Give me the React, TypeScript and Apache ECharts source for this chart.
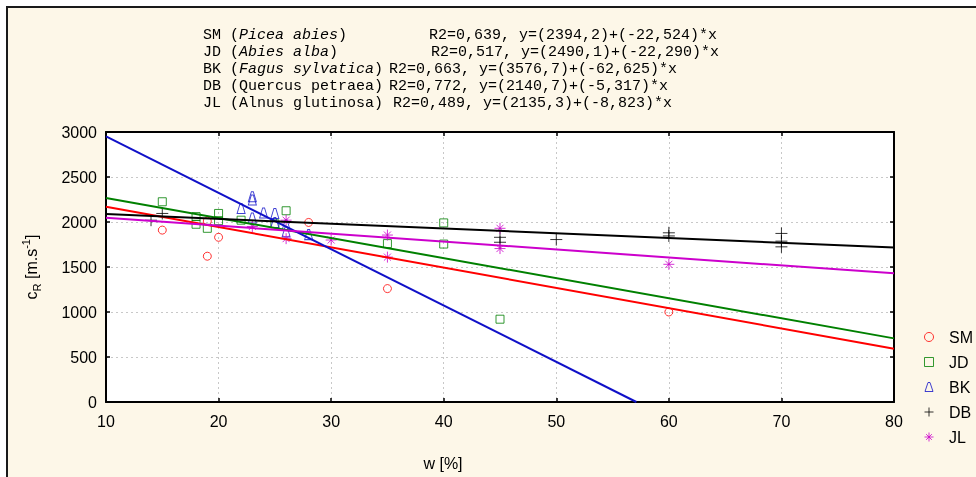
import React, { useEffect, useRef } from "react";
import * as echarts from "echarts";

// ---- data ----
const smX = [15, 19, 19, 20, 28, 35, 60];
const smY = [1910, 2010, 1620, 1830, 1995, 1260, 1000];
const jdX = [15, 18, 18, 19, 20, 20, 22, 25, 26, 35, 40, 40, 45];
const jdY = [2225, 2060, 1975, 1930, 2095, 2015, 2020, 1980, 2125, 1760, 1990, 1755, 920];
const bkX = [22, 23, 23, 23, 24, 25, 25, 26, 26, 28];
const bkY = [2150, 2280, 2245, 2045, 2100, 2095, 1995, 1965, 1890, 1860];
const dbX = [14, 15, 45, 45, 50, 60, 60, 70, 70, 70];
const dbY = [2020, 2095, 1830, 1775, 1805, 1880, 1845, 1873, 1787, 1724];
const jlX = [23, 26, 26, 30, 35, 35, 45, 45, 60];
const jlY = [1950, 2020, 1815, 1800, 1855, 1610, 1930, 1705, 1530];

const seriesNames = ["SM", "JD", "BK", "DB", "JL"];
const speciesNames = ["Picea abies", "Abies alba", "Fagus sylvatica", "Quercus petraea", "Alnus glutinosa"];
const speciesItalic = [true, true, true, false, false];
const r2Labels = ["0,639", "0,517", "0,663", "0,772", "0,489"];
const intercepts = [2394.2, 2490.1, 3576.7, 2140.7, 2135.3];
const slopes = [-22.524, -22.29, -62.625, -5.317, -8.823];

const xMin = 10;
const xMax = 80;
const xStep = 10;
const yMin = 0;
const yMax = 3000;
const yStep = 500;

const colors = ["#ff0000", "#008000", "#1010c8", "#000000", "#cc00cc"];
const symbols = [
  "circle",
  "path://M0,0L10,0L10,10L0,10Z",
  "path://M3,0L5,0L8,9L0,9Z",
  "path://M5,0L5,10M0,5L10,5",
  "path://M5,0L5,10M0,5L10,5M1.8,1.8L8.2,8.2M8.2,1.8L1.8,8.2",
];
const symbolSizes: any[] = [8, 8, [8, 10], 12, 11];
const textRightX = [429, 431, 389, 389, 393];

const allX = [smX, jdX, bkX, dbX, jlX];
const allY = [smY, jdY, bkY, dbY, jlY];

const fmt = (v: number, d: number) => v.toFixed(d).replace(".", ",");

export default function App() {
  const ref = useRef<HTMLDivElement>(null);
  useEffect(() => {
    if (!ref.current) return;
    const chart = echarts.init(ref.current, null, { renderer: "svg" });
    const sans = "Liberation Sans, Arial, sans-serif";
    const mono = "Liberation Mono, Courier New, monospace";

    const scatterSeries = seriesNames.map((n, i) => ({
      name: n,
      type: "scatter",
      xAxisIndex: 0,
      yAxisIndex: 0,
      symbol: symbols[i],
      symbolSize: symbolSizes[i],
      itemStyle: { color: "rgba(0,0,0,0)", borderColor: colors[i], borderWidth: 1 },
      data: allX[i].map((x, k) => [x, allY[i][k]]),
      z: 3,
    }));

    const lineSeries = seriesNames.map((n, i) => {
      const b = intercepts[i];
      const m = slopes[i];
      const yEnd = b + m * xMax;
      const end = yEnd >= yMin ? [xMax, yEnd] : [(yMin - b) / m, yMin];
      return {
        name: n + " fit",
        type: "line",
        xAxisIndex: 0,
        yAxisIndex: 0,
        symbol: "none",
        silent: true,
        lineStyle: { color: colors[i], width: 2 },
        itemStyle: { color: colors[i] },
        data: [[xMin, b + m * xMin], end],
        z: 4,
      };
    });

    const annot: any[] = seriesNames.map((n, i) => {
      const left = speciesItalic[i]
        ? `${n} ({it|${speciesNames[i]}})`
        : `${n} (${speciesNames[i]})`;
      return {
        type: "text",
        x: 203,
        y: 35 + i * 17,
        z: 10,
        style: {
          text: left,
          fontFamily: mono,
          fontSize: 15,
          fill: "#000",
          verticalAlign: "middle",
          rich: {
            it: { fontFamily: mono, fontSize: 15, fontStyle: "italic", fill: "#000" },
          },
        },
      };
    });
    const annotRight: any[] = seriesNames.map((n, i) => ({
      type: "text",
      x: textRightX[i],
      y: 35 + i * 17,
      z: 10,
      style: {
        text: `R2=${r2Labels[i]}, y=(${fmt(intercepts[i], 1)})+(${fmt(slopes[i], 3)})*x`,
        fontFamily: mono,
        fontSize: 15,
        fill: "#000",
        verticalAlign: "middle",
      },
    }));

    const axisLine = { show: true, onZero: false, lineStyle: { color: "#000", width: 2 } };
    const tick = { show: true, inside: true, length: 4, lineStyle: { color: "#000", width: 1.5 } };
    const split = { show: true, lineStyle: { color: "#c8c8c8", width: 1, type: [2, 3] } };

    chart.setOption({
      animation: false,
      backgroundColor: "transparent",
      graphic: [
        {
          type: "rect",
          z: -100,
          shape: { x: 7, y: 7, width: 1000, height: 500 },
          style: { fill: "#fdf7e8", stroke: "#1a1a1a", lineWidth: 2 },
        },
        ...annot,
        ...annotRight,
      ],
      grid: {
        left: 106,
        right: 82,
        top: 132,
        bottom: 75,
        show: true,
        backgroundColor: "#ffffff",
        borderWidth: 0,
      },
      legend: {
        orient: "vertical",
        left: 919,
        top: 323,
        itemWidth: 20,
        itemHeight: 9,
        itemGap: 7,
        textStyle: { fontFamily: sans, fontSize: 16, color: "#000", lineHeight: 18, padding: [0, 0, 0, 5] },
        data: seriesNames.map((n, i) => ({
          name: n,
          icon: symbols[i],
          itemStyle: { color: "rgba(0,0,0,0)", borderColor: colors[i], borderWidth: 1 },
        })),
      },
      xAxis: [
        {
          type: "value",
          min: xMin,
          max: xMax,
          interval: xStep,
          position: "bottom",
          axisLine,
          axisTick: tick,
          splitLine: split,
          axisLabel: { color: "#000", fontFamily: sans, fontSize: 16, margin: 11 },
          name: "w [%]",
          nameLocation: "middle",
          nameGap: 53,
          nameTextStyle: { color: "#000", fontFamily: sans, fontSize: 16, padding: [0, 114, 0, 0] },
        },
        {
          type: "value",
          min: xMin,
          max: xMax,
          interval: xStep,
          position: "top",
          axisLine,
          axisTick: tick,
          splitLine: { show: false },
          axisLabel: { show: false },
        },
      ],
      yAxis: [
        {
          type: "value",
          min: yMin,
          max: yMax,
          interval: yStep,
          position: "left",
          axisLine,
          axisTick: tick,
          splitLine: split,
          axisLabel: {
            color: "#000",
            fontFamily: sans,
            fontSize: 16,
            margin: 9,
            formatter: (v: number) => String(v),
          },
          name: "{n|c}{sub|R}{n| [m.s}{sup|-1}{n|]}",
          nameLocation: "middle",
          nameRotate: 90,
          nameGap: 64,
          nameTextStyle: {
            color: "#000",
            fontFamily: sans,
            fontSize: 16,
            rich: {
              n: { fontFamily: sans, fontSize: 16, color: "#000", lineHeight: 22 },
              sub: { fontFamily: sans, fontSize: 11, color: "#000", verticalAlign: "bottom", lineHeight: 16 },
              sup: { fontFamily: sans, fontSize: 11, color: "#000", verticalAlign: "top", lineHeight: 16 },
            },
          },
        },
        {
          type: "value",
          min: yMin,
          max: yMax,
          interval: yStep,
          position: "right",
          axisLine,
          axisTick: tick,
          splitLine: { show: false },
          axisLabel: { show: false },
        },
      ],
      series: [...scatterSeries, ...lineSeries],
    });
    return () => chart.dispose();
  }, []);
  return (
    <div
      ref={ref}
      style={{ position: "fixed", left: 0, top: 0, width: 976, height: 477 }}
    />
  );
}
